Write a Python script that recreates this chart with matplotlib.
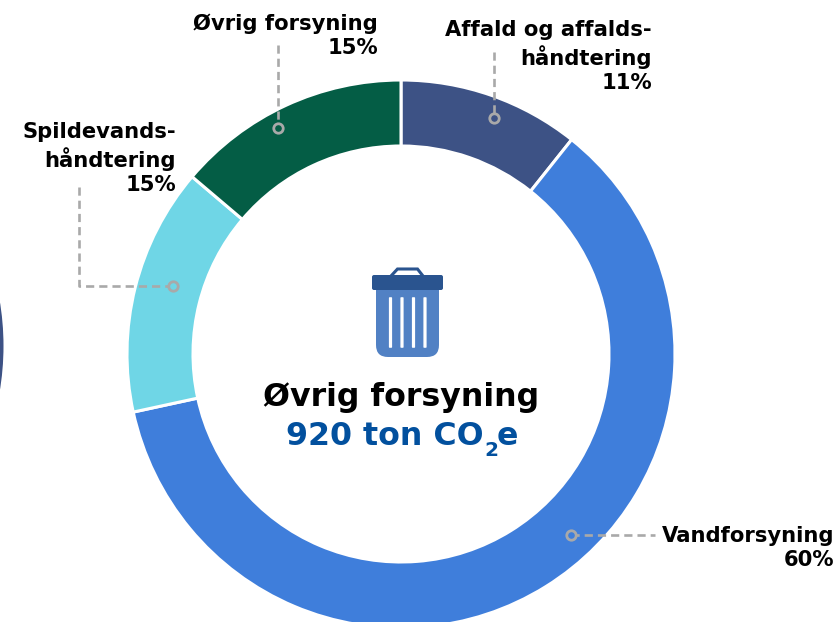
import matplotlib
matplotlib.use("Agg")
import matplotlib.pyplot as plt
from matplotlib.patches import Wedge, FancyBboxPatch, Rectangle, Polygon

plt.rcParams['font.family'] = ['DejaVu Sans']

categories = ["Affald og affalds-\nhåndtering", "Vandforsyning", "Spildevands-\nhåndtering", "Øvrig forsyning"]
percent_labels = ["11%", "60%", "15%", "15%"]
slice_values = [10.7, 60.9, 14.6, 13.8]
colors = ["#3D5285", "#3F7EDB", "#6FD6E6", "#045D45"]

W, H = 839, 622
fig = plt.figure(figsize=(W / 100, H / 100), dpi=100)
ax = fig.add_axes([0, 0, 1, 1])
Y = lambda y: H - y

ax.pie(slice_values, colors=colors, startangle=90, counterclock=False,
       center=(401, Y(354)), radius=274,
       wedgeprops=dict(width=66, edgecolor="white", linewidth=2.2), frame=False)
ax.set_xlim(0, W)
ax.set_ylim(0, H)
ax.set_aspect("equal")
ax.axis("off")

# neighbouring ring, cut by the left edge
ax.add_patch(Wedge((-269.5, Y(346)), 273, -20, 20, width=65, facecolor="#3D5285", edgecolor="none"))

# leader lines with open-circle ends
grey = "#A9A9A9"
leaders = [
    ([494, 494], [52, 118]),
    ([571, 655], [535, 535]),
    ([79, 79, 173], [187, 286, 286]),
    ([278, 278], [45, 128]),
]
for xs, ys in leaders:
    ax.plot(xs, [Y(v) for v in ys], color=grey, lw=1.9, ls=(0, (3.1, 1.9)), zorder=3)
for (xs, ys), c, end in zip(leaders, colors, [-1, 0, -1, -1]):
    ax.plot(xs[end], Y(ys[end]), "o", ms=6.8, mfc=c, mec=grey, mew=2.0, zorder=4)

# slice labels
label_fs = 15.2
label_pos = [(652, 20), (834, 526), (176, 122), (378, 13)]
for cat, pct, (x, y) in zip(categories, percent_labels, label_pos):
    ax.text(x, Y(y), f"{cat}\n{pct}", ha="right", va="top", fontsize=label_fs,
            fontweight="bold", color="black", linespacing=1.26)

# centre text
ax.text(401, Y(406), "Øvrig forsyning", ha="center", va="baseline", fontsize=22.8,
        fontweight="bold", color="black")
blue = "#02509E"
ax.text(484, Y(445), "920 ton CO", ha="right", va="baseline", fontsize=22.8, fontweight="bold", color=blue)
ax.text(484, Y(456), "2", ha="left", va="baseline", fontsize=14.5, fontweight="bold", color=blue)
ax.text(497, Y(445), "e", ha="left", va="baseline", fontsize=22.8, fontweight="bold", color=blue)

# bin icon
ax.add_patch(FancyBboxPatch((376 + 6, Y(357) + 6), 63 - 12, 67 - 12, boxstyle="round,pad=6,rounding_size=12",
                            facecolor="#5181C4", edgecolor="none", zorder=5))
ax.add_patch(Rectangle((376, Y(310)), 63, 20, facecolor="#5181C4", edgecolor="none", zorder=5))
ax.add_patch(FancyBboxPatch((372 + 2, Y(290) + 2), 71 - 4, 15 - 4, boxstyle="round,pad=2,rounding_size=2",
                            facecolor="#2A548F", edgecolor="none", zorder=6))
ax.add_patch(Polygon([(391, Y(276)), (397.5, Y(269)), (417.5, Y(269)), (423, Y(276))], closed=False, fill=False,
                     edgecolor="#2A548F", lw=2.2, zorder=6))
for x in [390.5, 402, 413.5, 425]:
    ax.add_patch(FancyBboxPatch((x - 0.8, Y(347)), 1.6, 49, boxstyle="round,pad=0.8,rounding_size=0.8",
                                facecolor="white", edgecolor="none", zorder=7))

fig.savefig("out.png", dpi=100, facecolor="white")
